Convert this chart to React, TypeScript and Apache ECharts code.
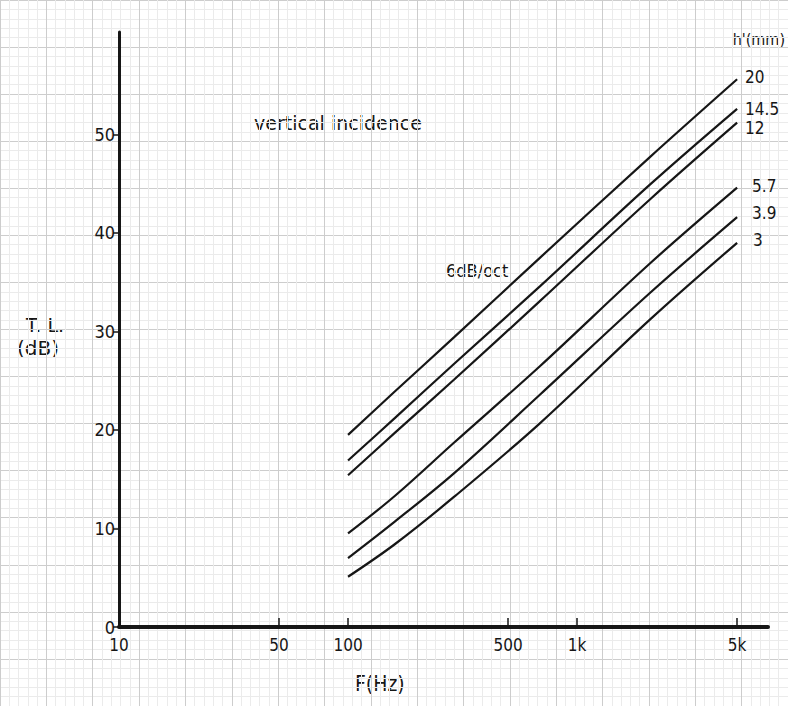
import React, { useEffect, useRef } from "react";
import * as echarts from "echarts";

// Frequencies (Hz) at which the curves were read
const freqs = [100, 160, 290, 690, 2080, 5000];
// Curve labels h' (mm)
const seriesNames = ["20", "14.5", "12", "5.7", "3.9", "3"];
// T.L. (dB) values per curve
const tl20 = [19.5, 23.9, 29.4, 37.5, 47.7, 55.6];
const tl145 = [16.9, 21.2, 26.7, 34.6, 44.9, 52.6];
const tl12 = [15.4, 19.7, 25.1, 33.1, 43.4, 51.2];
const tl57 = [9.5, 13.3, 18.7, 26.5, 36.9, 44.6];
const tl39 = [7.0, 10.7, 15.6, 23.6, 33.9, 41.6];
const tl3 = [5.1, 8.4, 13.2, 20.7, 31.2, 39.0];
const seriesValues = [tl20, tl145, tl12, tl57, tl39, tl3];

// Tick labels
const xTickValues = [10, 50, 100, 500, 1000, 5000];
const xTickLabels = ["10", "50", "100", "500", "1k", "5k"];
const yTickValues = [0, 10, 20, 30, 40, 50];

const FONT = '"DejaVu Sans Condensed", "Liberation Sans Narrow", "Noto Sans", sans-serif';
const FONT2 = '"DejaVu Sans", "Noto Sans", sans-serif';
const INK = "#161616";

const endOffsets: [number, number][] = [
  [8, -2],
  [8, 0],
  [8, 5],
  [15, -2],
  [15, -4],
  [16, -3],
];

export default function App() {
  const ref = useRef<HTMLDivElement>(null);
  useEffect(() => {
    if (!ref.current) return;
    const chart = echarts.init(ref.current, undefined, { renderer: "svg" });
    const gridAxisCommon = {
      gridIndex: 1,
      interval: 5,
      z: 0,
      silent: true,
      axisLine: { show: false },
      axisTick: { show: false },
      axisLabel: { show: false },
      splitLine: { show: true, lineStyle: { color: "#cdcdcd", width: 1 } },
      minorTick: { show: false, splitNumber: 5 },
      minorSplitLine: { show: true, lineStyle: { color: "#ebebeb", width: 1 } },
    };
    const option: any = {
      animation: false,
      backgroundColor: "#ffffff",
      grid: [
        { left: 119, right: 20, top: 32, bottom: 79 },
        { left: -28.75, right: -20.5, top: -13.25, bottom: -19.5 },
      ],
      xAxis: [
        {
          type: "log",
          gridIndex: 0,
          logBase: 10,
          min: 10,
          max: 6820,
          z: 5,
          axisLine: { show: true, onZero: false, lineStyle: { color: INK, width: 4 } },
          axisTick: {
            show: true,
            inside: true,
            length: 9,
            customValues: xTickValues.slice(1),
            lineStyle: { color: INK, width: 1.5 },
          },
          axisLabel: {
            show: true,
            customValues: xTickValues,
            margin: 9,
            fontSize: 17,
            fontFamily: FONT,
            color: INK,
            formatter: (v: number) => {
              const i = xTickValues.findIndex((t) => Math.abs(t - v) < 1e-6 * t);
              return i >= 0 ? xTickLabels[i] : "";
            },
          },
          splitLine: { show: false },
          minorTick: { show: false },
          minorSplitLine: { show: false },
        },
        { type: "value", min: 0, max: 85, ...gridAxisCommon },
      ],
      yAxis: [
        {
          type: "value",
          gridIndex: 0,
          min: 0,
          max: 60.4,
          interval: 10,
          z: 5,
          axisLine: { show: true, onZero: false, lineStyle: { color: INK, width: 3 } },
          axisTick: {
            show: true,
            inside: false,
            length: 6,
            customValues: yTickValues,
            lineStyle: { color: INK, width: 1.5 },
          },
          axisLabel: {
            show: true,
            customValues: yTickValues,
            margin: 4,
            fontSize: 18,
            fontFamily: FONT,
            color: INK,
            formatter: (v: number) => (v > 55 ? "" : String(v)),
          },
          splitLine: { show: false },
        },
        { type: "value", min: -10, max: 65, ...gridAxisCommon },
      ],
      series: seriesNames.map((name, si) => ({
        name,
        type: "line",
        xAxisIndex: 0,
        yAxisIndex: 0,
        z: 4,
        data: freqs.map((f, i) => [f, seriesValues[si][i]]),
        showSymbol: false,
        symbol: "none",
        smooth: 0.35,
        lineStyle: { color: INK, width: 2.2 },
        endLabel: {
          show: true,
          formatter: name,
          distance: 0,
          offset: endOffsets[si],
          fontSize: 17,
          fontFamily: FONT,
          color: INK,
        },
        emphasis: { disabled: true },
      })),
      graphic: [
        { type: "text", left: 26, top: 315, silent: true, style: { text: "T. L.", font: `19px ${FONT2}`, fill: INK } },
        { type: "text", left: 17, top: 338, silent: true, style: { text: "(dB)", font: `20px ${FONT2}`, fill: INK } },
        { type: "text", left: 355, top: 673, silent: true, style: { text: "F(Hz)", font: `21px ${FONT}`, fill: INK } },
        { type: "text", left: 254, top: 113, silent: true, style: { text: "vertical incidence", font: `19px ${FONT2}`, fill: INK } },
        { type: "text", left: 446, top: 261, silent: true, style: { text: "6dB/oct", font: `18px ${FONT}`, fill: INK } },
        { type: "text", right: 3, top: 31, silent: true, style: { text: "h'(mm)", font: `16px ${FONT}`, fill: INK } },
      ],
    };
    chart.setOption(option);
    return () => chart.dispose();
  }, []);
  return (
    <div
      ref={ref}
      style={{ position: "absolute", left: 0, top: 0, width: 788, height: 706, background: "#fff" }}
    />
  );
}
